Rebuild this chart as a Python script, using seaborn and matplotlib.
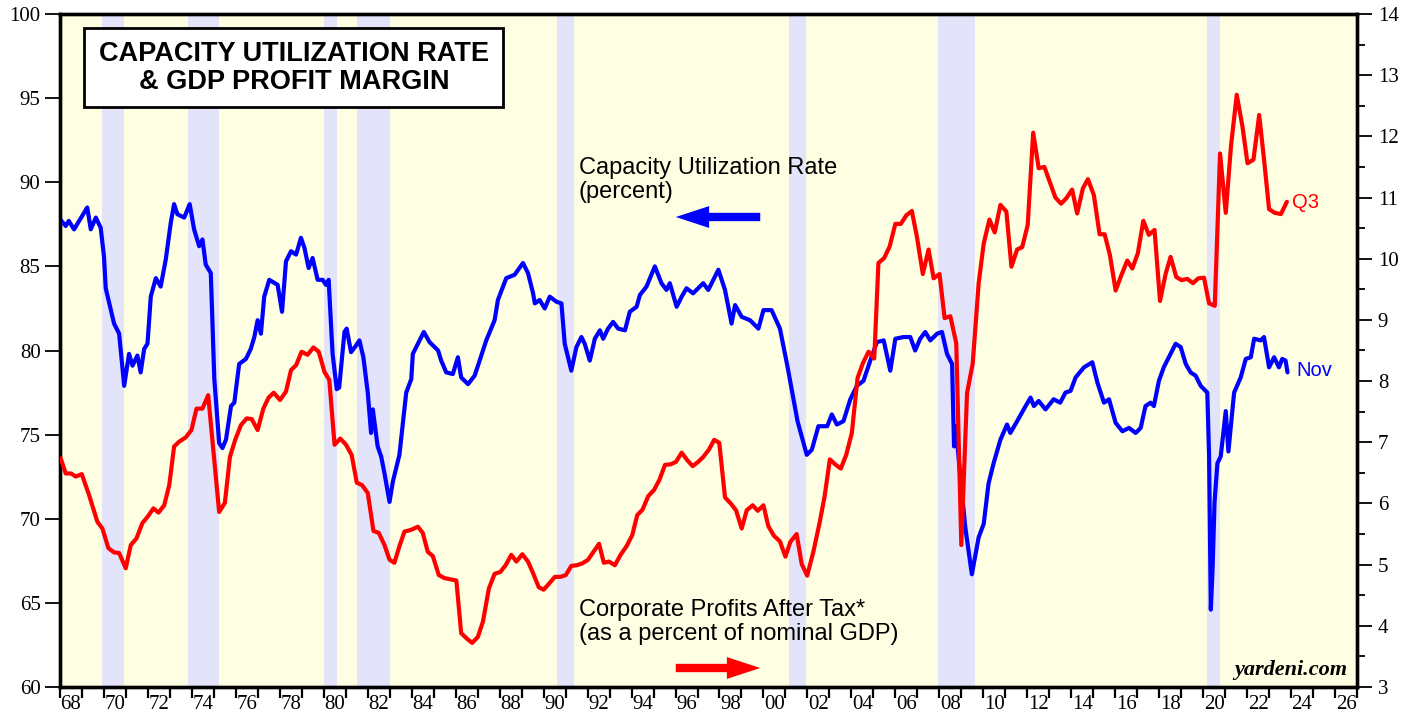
import matplotlib
matplotlib.use("Agg")
import matplotlib.pyplot as plt
from matplotlib.ticker import FixedLocator, MultipleLocator, NullFormatter
import seaborn as sns

# ── Data ────────────────────────────────────────────────────────────────────
# capacity utilization rate, percent (left axis), decimal year
cu_years = [1968.00, 1968.26, 1968.40, 1968.64, 1968.87, 1969.24, 1969.40, 1969.63, 1969.85, 1970.00,
            1970.08, 1970.46, 1970.69, 1970.92, 1971.14, 1971.30, 1971.52, 1971.67, 1971.83, 1971.98,
            1972.13, 1972.36, 1972.58, 1972.81, 1973.04, 1973.19, 1973.34, 1973.65, 1973.90, 1974.10,
            1974.33, 1974.48, 1974.63, 1974.86, 1975.02, 1975.24, 1975.39, 1975.55, 1975.78, 1975.93,
            1976.15, 1976.46, 1976.68, 1976.84, 1976.99, 1977.14, 1977.29, 1977.52, 1977.90, 1978.10,
            1978.28, 1978.51, 1978.74, 1978.96, 1979.12, 1979.31, 1979.49, 1979.72, 1979.95, 1980.10,
            1980.22, 1980.40, 1980.59, 1980.70, 1980.94, 1981.04, 1981.24, 1981.47, 1981.62, 1981.80,
            1982.00, 1982.15, 1982.23, 1982.45, 1982.61, 1982.76, 1982.99, 1983.14, 1983.44, 1983.75,
            1983.98, 1984.05, 1984.28, 1984.55, 1984.81, 1985.20, 1985.34, 1985.57, 1985.87, 1986.10,
            1986.25, 1986.56, 1986.86, 1987.09, 1987.39, 1987.77, 1987.92, 1988.30, 1988.68, 1989.06,
            1989.29, 1989.52, 1989.60, 1989.82, 1990.05, 1990.28, 1990.58, 1990.81, 1990.96, 1991.26,
            1991.49, 1991.72, 1991.87, 1992.10, 1992.33, 1992.56, 1992.71, 1992.93, 1993.16, 1993.39,
            1993.70, 1993.92, 1994.23, 1994.38, 1994.68, 1995.06, 1995.36, 1995.59, 1995.74, 1996.05,
            1996.28, 1996.50, 1996.80, 1997.26, 1997.49, 1997.95, 1998.25, 1998.55, 1998.71, 1999.01,
            1999.39, 1999.77, 2000.00, 2000.37, 2000.75, 2001.10, 2001.55, 2001.97, 2002.20, 2002.50,
            2002.90, 2003.11, 2003.34, 2003.64, 2003.95, 2004.25, 2004.55, 2004.86, 2005.16, 2005.47,
            2005.77, 2006.00, 2006.37, 2006.68, 2006.90, 2007.13, 2007.36, 2007.59, 2007.90, 2008.12,
            2008.35, 2008.58, 2008.67, 2008.75, 2008.92, 2009.18, 2009.48, 2009.79, 2010.02, 2010.24,
            2010.47, 2010.78, 2011.08, 2011.23, 2011.54, 2011.84, 2012.15, 2012.30, 2012.52, 2012.83,
            2013.20, 2013.50, 2013.74, 2013.97, 2014.20, 2014.58, 2014.96, 2015.19, 2015.49, 2015.72,
            2016.02, 2016.33, 2016.63, 2016.93, 2017.16, 2017.38, 2017.61, 2017.76, 2017.99, 2018.21,
            2018.44, 2018.75, 2018.98, 2019.21, 2019.43, 2019.66, 2019.89, 2020.19, 2020.27, 2020.35,
            2020.43, 2020.52, 2020.65, 2020.80, 2021.03, 2021.15, 2021.41, 2021.71, 2021.94, 2022.17,
            2022.32, 2022.62, 2022.77, 2023.00, 2023.23, 2023.45, 2023.60, 2023.75, 2023.84]
cu_vals = [87.8, 87.4, 87.7, 87.2, 87.7, 88.5, 87.2, 87.9, 87.3, 85.6,
           83.7, 81.6, 81.0, 77.9, 79.8, 79.1, 79.7, 78.7, 80.1, 80.4,
           83.2, 84.3, 83.8, 85.4, 87.6, 88.7, 88.1, 87.9, 88.7, 87.2,
           86.2, 86.6, 85.1, 84.6, 78.3, 74.5, 74.2, 74.7, 76.7, 76.9,
           79.2, 79.5, 80.1, 80.8, 81.8, 81.0, 83.2, 84.2, 83.9, 82.3,
           85.3, 85.9, 85.7, 86.7, 86.1, 84.9, 85.5, 84.2, 84.2, 83.9,
           84.2, 79.8, 77.7, 77.8, 81.1, 81.3, 79.9, 80.3, 80.6, 79.6,
           77.5, 75.1, 76.5, 74.3, 73.7, 72.7, 71.0, 72.2, 73.8, 77.5,
           78.3, 79.8, 80.4, 81.1, 80.5, 80.0, 79.4, 78.7, 78.6, 79.6,
           78.4, 78.0, 78.5, 79.4, 80.6, 81.8, 83.0, 84.3, 84.5, 85.2,
           84.6, 83.4, 82.8, 83.0, 82.5, 83.2, 82.9, 82.8, 80.4, 78.8,
           80.2, 80.8, 80.4, 79.4, 80.7, 81.2, 80.7, 81.3, 81.7, 81.3,
           81.2, 82.3, 82.6, 83.3, 83.8, 85.0, 84.0, 83.6, 84.0, 82.6,
           83.2, 83.7, 83.4, 84.0, 83.6, 84.8, 83.6, 81.6, 82.7, 82.0,
           81.8, 81.3, 82.4, 82.4, 81.3, 79.0, 75.8, 73.8, 74.1, 75.5,
           75.5, 76.2, 75.6, 75.8, 77.1, 77.9, 78.2, 79.4, 80.5, 80.6,
           78.8, 80.7, 80.8, 80.8, 80.0, 80.7, 81.1, 80.6, 81.0, 81.1,
           79.8, 79.2, 74.3, 75.5, 73.0, 69.5, 66.7, 68.9, 69.7, 72.1,
           73.3, 74.7, 75.6, 75.1, 75.8, 76.5, 77.2, 76.7, 77.0, 76.5,
           77.1, 76.9, 77.5, 77.6, 78.4, 79.0, 79.3, 78.1, 76.9, 77.1,
           75.7, 75.2, 75.4, 75.1, 75.4, 76.7, 76.9, 76.7, 78.2, 79.0,
           79.6, 80.4, 80.2, 79.2, 78.7, 78.5, 77.9, 77.5, 73.8, 64.6,
           67.0, 71.0, 73.3, 73.7, 76.4, 74.0, 77.5, 78.4, 79.5, 79.6,
           80.7, 80.6, 80.8, 79.0, 79.6, 79.0, 79.5, 79.4, 78.7]

# corporate profits after tax, % of nominal GDP (right axis), quarterly
pm_years = [1968.03, 1968.26, 1968.50, 1968.72, 1968.99, 1969.32, 1969.70, 1969.93, 1970.20, 1970.46,
            1970.69, 1970.99, 1971.22, 1971.48, 1971.75, 1971.98, 1972.25, 1972.48, 1972.74, 1972.97,
            1973.19, 1973.42, 1973.72, 1973.98, 1974.21, 1974.48, 1974.74, 1975.24, 1975.50, 1975.73,
            1975.97, 1976.23, 1976.49, 1976.72, 1976.99, 1977.25, 1977.49, 1977.72, 1978.01, 1978.28,
            1978.51, 1978.74, 1978.99, 1979.26, 1979.53, 1979.77, 1980.03, 1980.25, 1980.49, 1980.75,
            1981.01, 1981.27, 1981.50, 1981.74, 1982.00, 1982.26, 1982.50, 1982.76, 1982.99, 1983.21,
            1983.44, 1983.67, 1983.98, 1984.28, 1984.50, 1984.73, 1984.96, 1985.23, 1985.49, 1985.75,
            1986.03, 1986.25, 1986.48, 1986.75, 1987.01, 1987.24, 1987.51, 1987.77, 1988.03, 1988.27,
            1988.53, 1988.76, 1989.03, 1989.29, 1989.52, 1989.78, 1990.00, 1990.25, 1990.51, 1990.77,
            1991.01, 1991.26, 1991.50, 1991.76, 1992.02, 1992.25, 1992.52, 1992.74, 1992.97, 1993.24,
            1993.50, 1993.77, 1994.03, 1994.26, 1994.50, 1994.76, 1995.02, 1995.26, 1995.52, 1995.78,
            1996.02, 1996.28, 1996.53, 1996.78, 1997.03, 1997.26, 1997.52, 1997.76, 1997.99, 1998.25,
            1998.51, 1998.75, 1999.01, 1999.24, 1999.51, 1999.74, 2000.00, 2000.22, 2000.48, 2000.75,
            2001.00, 2001.22, 2001.51, 2001.74, 2001.99, 2002.27, 2002.54, 2002.78, 2003.02, 2003.26,
            2003.52, 2003.76, 2004.02, 2004.28, 2004.52, 2004.78, 2005.04, 2005.23, 2005.49, 2005.74,
            2006.00, 2006.25, 2006.50, 2006.75, 2006.98, 2007.25, 2007.51, 2007.74, 2008.01, 2008.24,
            2008.50, 2008.77, 2009.00, 2009.26, 2009.52, 2009.79, 2010.02, 2010.28, 2010.52, 2010.78,
            2011.05, 2011.28, 2011.54, 2011.77, 2012.02, 2012.27, 2012.52, 2012.78, 2013.02, 2013.28,
            2013.54, 2013.78, 2014.04, 2014.27, 2014.53, 2014.76, 2015.03, 2015.29, 2015.52, 2015.76,
            2016.02, 2016.28, 2016.55, 2016.78, 2017.03, 2017.28, 2017.53, 2017.79, 2018.04, 2018.30,
            2018.52, 2018.78, 2019.02, 2019.28, 2019.54, 2019.78, 2020.04, 2020.27, 2020.53, 2020.77,
            2021.03, 2021.27, 2021.53, 2021.79, 2022.02, 2022.29, 2022.55, 2022.78, 2023.00, 2023.26,
            2023.54, 2023.81]
pm_vals = [6.74, 6.49, 6.49, 6.44, 6.48, 6.14, 5.70, 5.59, 5.27, 5.20,
           5.19, 4.94, 5.32, 5.43, 5.68, 5.78, 5.92, 5.85, 5.97, 6.30,
           6.93, 7.01, 7.08, 7.20, 7.55, 7.55, 7.77, 5.86, 6.01, 6.76,
           7.04, 7.28, 7.39, 7.38, 7.20, 7.55, 7.73, 7.81, 7.69, 7.83,
           8.18, 8.26, 8.48, 8.43, 8.55, 8.48, 8.15, 8.02, 6.96, 7.06,
           6.96, 6.79, 6.34, 6.30, 6.17, 5.55, 5.52, 5.32, 5.08, 5.03,
           5.30, 5.54, 5.57, 5.62, 5.52, 5.21, 5.14, 4.83, 4.78, 4.76,
           4.74, 3.88, 3.80, 3.72, 3.82, 4.07, 4.61, 4.85, 4.88, 4.99,
           5.16, 5.05, 5.17, 5.05, 4.86, 4.63, 4.59, 4.69, 4.80, 4.80,
           4.83, 4.98, 4.99, 5.02, 5.08, 5.20, 5.34, 5.03, 5.05, 4.99,
           5.16, 5.30, 5.48, 5.81, 5.90, 6.12, 6.22, 6.38, 6.63, 6.64,
           6.68, 6.83, 6.71, 6.61, 6.68, 6.76, 6.88, 7.04, 6.99, 6.10,
           6.00, 5.89, 5.59, 5.89, 5.97, 5.88, 5.97, 5.63, 5.47, 5.38,
           5.13, 5.37, 5.50, 5.01, 4.82, 5.21, 5.66, 6.11, 6.72, 6.64,
           6.57, 6.79, 7.15, 8.05, 8.29, 8.48, 8.37, 9.93, 10.01, 10.20,
           10.57, 10.57, 10.71, 10.78, 10.36, 9.75, 10.15, 9.68, 9.75, 9.03,
           9.06, 8.62, 5.32, 7.80, 8.29, 9.60, 10.25, 10.64, 10.43, 10.88,
           10.77, 9.87, 10.15, 10.19, 10.55, 12.06, 11.48, 11.50, 11.26, 11.00,
           10.90, 10.99, 11.13, 10.74, 11.15, 11.30, 11.04, 10.40, 10.40, 10.06,
           9.48, 9.73, 9.97, 9.84, 10.09, 10.62, 10.39, 10.47, 9.31, 9.76,
           10.03, 9.70, 9.65, 9.67, 9.60, 9.68, 9.69, 9.27, 9.23, 11.72,
           10.75, 11.85, 12.68, 12.16, 11.56, 11.62, 12.35, 11.59, 10.81, 10.75,
           10.73, 10.93]

# recession shading (start, end) in decimal years
rec_start = [1969.92, 1973.83, 1980.03, 1981.53, 1990.62, 2001.17, 2007.95, 2020.17]
rec_end   = [1970.92, 1975.24, 1980.62, 1982.99, 1991.38, 2001.95, 2009.62, 2020.75]

left_ticks  = [60, 65, 70, 75, 80, 85, 90, 95, 100]
right_ticks = [3, 4, 5, 6, 7, 8, 9, 10, 11, 12, 13, 14]
year_ticks  = list(range(1968, 2028))
label_years = list(range(1968, 2027, 2))

# ── Style ───────────────────────────────────────────────────────────────────
sns.set_style("ticks")
plt.rcParams['font.family'] = ['Liberation Serif', 'DejaVu Serif']
plt.rcParams['text.color'] = 'black'
plt.rcParams['xtick.color'] = 'black'
plt.rcParams['ytick.color'] = 'black'
plt.rcParams['axes.edgecolor'] = 'black'
SANS = ['Liberation Sans', 'DejaVu Sans']
BLUE, RED = '#0000FF', '#FF0000'
W, H = 1416, 717

def fx(px):
    return px / W

def fy(py):
    return 1 - py / H

fig = plt.figure(figsize=(W / 100, H / 100), dpi=100)
ax = fig.add_axes([fx(60), fy(687), (1357 - 60) / W, (687 - 14) / H])
ax.set_facecolor('#FEFEE3')

for s, e in zip(rec_start, rec_end):
    ax.axvspan(s, e, color='#E3E3FA', lw=0, zorder=0)

sns.lineplot(x=cu_years, y=cu_vals, ax=ax, color=BLUE, linewidth=3.0,
             sort=False, estimator=None, zorder=3)

ax2 = ax.twinx()
sns.lineplot(x=pm_years, y=pm_vals, ax=ax2, color=RED, linewidth=3.0,
             sort=False, estimator=None, zorder=3)

# ── Axes ────────────────────────────────────────────────────────────────────
ax.set_xlim(1968, 2027)
ax.set_ylim(60, 100)
ax2.set_ylim(3, 14)

ax.xaxis.set_major_locator(FixedLocator(year_ticks))
ax.xaxis.set_major_formatter(NullFormatter())
ax.xaxis.set_minor_locator(FixedLocator([y + 0.5 for y in label_years]))
ax.set_xticklabels([f"{y % 100:02d}" for y in label_years], minor=True)
ax.tick_params(axis='x', which='major', direction='out', length=8, width=1.6, color='black')
ax.tick_params(axis='x', which='minor', length=0, labelsize=15, pad=6)

ax.set_yticks(left_ticks)
ax.tick_params(axis='y', direction='out', length=11, width=1.3, labelsize=15, pad=3)

ax2.set_yticks(right_ticks)
ax2.yaxis.set_minor_locator(MultipleLocator(0.5))
ax2.tick_params(axis='y', which='major', direction='out', length=11, width=1.3, labelsize=15, pad=4)
ax2.tick_params(axis='y', which='minor', direction='out', length=6, width=1.3)

for a in (ax, ax2):
    a.set_xlabel('')
    a.set_ylabel('')
    for sp in a.spines.values():
        sp.set_visible(True)
        sp.set_linewidth(2.4)
        sp.set_color('black')

# ── Title box ───────────────────────────────────────────────────────────────
fig.add_artist(plt.Rectangle((fx(84), fy(107)), (503 - 84) / W, (107 - 28) / H,
                             transform=fig.transFigure, facecolor='white',
                             edgecolor='black', linewidth=2, zorder=5))
fig.text(fx(294), fy(68), "CAPACITY UTILIZATION RATE\n& GDP PROFIT MARGIN",
         ha='center', va='center', fontsize=19.5, fontweight='bold', family=SANS,
         linespacing=1.11, color='black', zorder=6)

# ── Annotations ─────────────────────────────────────────────────────────────
fig.text(fx(579), fy(157), "Capacity Utilization Rate\n(percent)", ha='left', va='top',
         fontsize=17, family=SANS, linespacing=1.14, color='black', zorder=6)
fig.text(fx(579), fy(599), "Corporate Profits After Tax*\n(as a percent of nominal GDP)",
         ha='left', va='top', fontsize=17, family=SANS, linespacing=1.14, color='black', zorder=6)

fig.add_artist(matplotlib.patches.FancyArrowPatch(
    (fx(763), fy(217)), (fx(673), fy(217)), transform=fig.transFigure,
    arrowstyle='simple,head_length=1.6,tail_width=0.4,head_width=1.05',
    mutation_scale=15, color=BLUE, lw=0, zorder=6))
fig.add_artist(matplotlib.patches.FancyArrowPatch(
    (fx(673), fy(668)), (fx(763), fy(668)), transform=fig.transFigure,
    arrowstyle='simple,head_length=1.6,tail_width=0.4,head_width=1.05',
    mutation_scale=15, color=RED, lw=0, zorder=6))

fig.text(fx(1292), fy(202), "Q3", ha='left', va='center', fontsize=14.5,
         family=SANS, color=RED, zorder=6)
fig.text(fx(1296), fy(371), "Nov", ha='left', va='center', fontsize=14.5,
         family=SANS, color=BLUE, zorder=6)

fig.text(fx(1347), fy(670), "yardeni.com", ha='right', va='center', fontsize=16,
         fontweight='bold', fontstyle='italic', color='black', zorder=6)

fig.savefig("out.png", dpi=100)
